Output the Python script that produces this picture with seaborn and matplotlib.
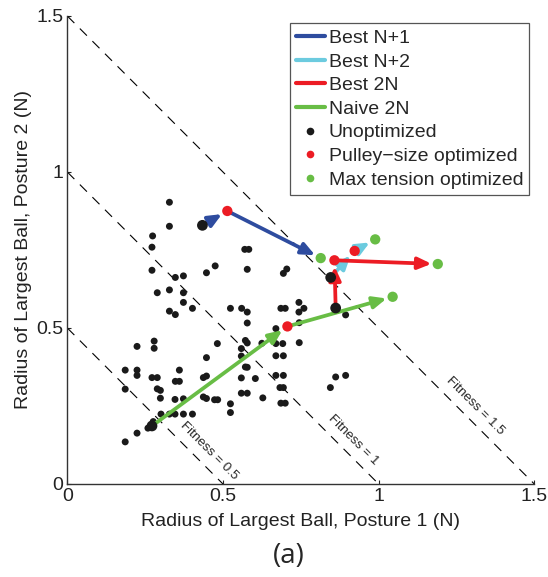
import matplotlib
matplotlib.use("Agg")
import matplotlib.pyplot as plt
import seaborn as sns
from matplotlib.lines import Line2D

# unoptimized designs: radius of largest ball in posture 1 / posture 2 (N)
unopt_x = [0.328, 0.328, 0.274, 0.272, 0.272, 0.347, 0.373, 0.447, 0.475, 0.570,
           0.583, 0.578, 0.289, 0.328, 0.373, 0.373, 0.402, 0.328, 0.347, 0.524,
           0.560, 0.578, 0.578, 0.670, 0.694, 0.705, 0.686, 0.700, 0.744, 0.744,
           0.760, 0.745, 0.745, 0.862, 0.894, 0.845, 0.894, 0.224, 0.279, 0.279,
           0.482, 0.572, 0.578, 0.559, 0.447, 0.559, 0.625, 0.670, 0.692, 0.670,
           0.694, 0.572, 0.578, 0.559, 0.604, 0.670, 0.694, 0.683, 0.694, 0.186,
           0.224, 0.224, 0.272, 0.289, 0.360, 0.347, 0.360, 0.437, 0.447, 0.186,
           0.289, 0.299, 0.299, 0.346, 0.373, 0.437, 0.447, 0.473, 0.483, 0.559,
           0.578, 0.628, 0.524, 0.524, 0.686, 0.700, 0.301, 0.328, 0.346, 0.373,
           0.402, 0.276, 0.224, 0.186, 0.259]
unopt_y = [0.903, 0.826, 0.795, 0.759, 0.685, 0.662, 0.667, 0.677, 0.699, 0.752,
           0.752, 0.688, 0.613, 0.622, 0.613, 0.582, 0.563, 0.554, 0.543, 0.563,
           0.563, 0.551, 0.516, 0.498, 0.675, 0.689, 0.563, 0.563, 0.582, 0.551,
           0.563, 0.517, 0.453, 0.343, 0.348, 0.309, 0.542, 0.441, 0.458, 0.435,
           0.450, 0.460, 0.452, 0.434, 0.405, 0.410, 0.451, 0.450, 0.450, 0.411,
           0.411, 0.375, 0.374, 0.340, 0.338, 0.348, 0.348, 0.309, 0.309, 0.365,
           0.365, 0.348, 0.341, 0.341, 0.365, 0.329, 0.329, 0.341, 0.346, 0.304,
           0.305, 0.300, 0.275, 0.271, 0.273, 0.279, 0.274, 0.270, 0.270, 0.291,
           0.291, 0.276, 0.257, 0.229, 0.259, 0.259, 0.224, 0.224, 0.224, 0.224,
           0.224, 0.200, 0.163, 0.135, 0.179]

# design paths: unoptimized -> pulley-size optimized -> max tension optimized
path_names = ["Best N+1", "Best N+2", "Best 2N", "Naive 2N"]
path_colors = ["#2e4c9f", "#6ccbdf", "#ec1c24", "#68bd45"]
start_x = [0.434, 0.846, 0.862, 0.272]
start_y = [0.829, 0.662, 0.564, 0.186]
pulley_x = [0.514, 0.923, 0.858, 0.707]
pulley_y = [0.875, 0.747, 0.717, 0.505]
tension_x = [0.814, 0.989, 1.190, 1.045]
tension_y = [0.724, 0.784, 0.705, 0.600]

fitness_levels = [0.5, 1.0, 1.5]
fitness_labels = ["Fitness = 0.5", "Fitness = 1", "Fitness = 1.5"]
ticks = [0, 0.5, 1, 1.5]
tick_labels = ["0", "0.5", "1", "1.5"]

sns.set_style("ticks")
plt.rcParams["font.family"] = ["Liberation Sans", "DejaVu Sans"]

fig, ax = plt.subplots(figsize=(5.48, 5.77), dpi=100)
fig.subplots_adjust(left=0.1228, right=0.975, bottom=0.1612, top=0.9723)

# iso-fitness lines
for f, lab, along in zip(fitness_levels, fitness_labels, [0.35, 0.78, 1.06]):
    ax.plot([0, f], [f, 0], color="black", lw=0.8, ls=(0, (9, 7)), zorder=1)
    off = 0.06
    tx = (f + along) / 2 + off / 2
    ty = (f - along) / 2 + off / 2
    ax.text(tx, ty, lab, rotation=-45, rotation_mode="anchor", ha="center",
            va="center", fontsize=9.5, zorder=2)

sns.scatterplot(x=unopt_x, y=unopt_y, color="#1a1a1a", s=25, edgecolor="none",
                ax=ax, zorder=3, legend=False)

arrow_style = "-|>,head_length=0.8,head_width=0.35"
for i, c in enumerate(path_colors):
    for (x0, y0), (x1, y1) in [((start_x[i], start_y[i]), (pulley_x[i], pulley_y[i])),
                               ((pulley_x[i], pulley_y[i]), (tension_x[i], tension_y[i]))]:
        ax.annotate("", xy=(x1, y1), xytext=(x0, y0), zorder=4,
                    arrowprops=dict(arrowstyle=arrow_style, color=c, lw=2.7,
                                    shrinkA=0, shrinkB=4.5, mutation_scale=10))

sns.scatterplot(x=start_x, y=start_y, color="#1a1a1a", s=60, edgecolor="none",
                ax=ax, zorder=5, legend=False)
sns.scatterplot(x=pulley_x, y=pulley_y, color="#ec1c24", s=55, edgecolor="none",
                ax=ax, zorder=5, legend=False)
sns.scatterplot(x=tension_x, y=tension_y, color="#68bd45", s=55, edgecolor="none",
                ax=ax, zorder=5, legend=False)

ax.set_xlim(0, 1.5)
ax.set_ylim(0, 1.5)
ax.set_xticks(ticks)
ax.set_xticklabels(tick_labels)
ax.set_yticks(ticks)
ax.set_yticklabels(tick_labels)
ax.tick_params(direction="in", length=3, width=0.8, labelsize=14, pad=3, colors="#222222")
ax.set_xlabel("Radius of Largest Ball, Posture 1 (N)", fontsize=14, color="#222222", labelpad=6)
ax.set_ylabel("Radius of Largest Ball, Posture 2 (N)", fontsize=14, color="#222222", labelpad=3)
sns.despine(ax=ax)
for sp in ["left", "bottom"]:
    ax.spines[sp].set_linewidth(1.0)
    ax.spines[sp].set_color("#333333")

handles = [Line2D([0], [0], color=c, lw=3) for c in path_colors]
handles += [Line2D([0], [0], marker="o", ls="none", color=c, markersize=5.5, markeredgewidth=0)
            for c in ["#1a1a1a", "#ec1c24", "#68bd45"]]
labels = path_names + ["Unoptimized", "Pulley\u2212size optimized", "Max tension optimized"]
leg = ax.legend(handles, labels, loc="upper right", bbox_to_anchor=(0.989, 0.984),
                fontsize=14, frameon=True, fancybox=False, framealpha=1,
                edgecolor="#555555", borderaxespad=0, borderpad=0.3,
                labelspacing=0.31, handlelength=1.5, handletextpad=0.2)
leg.get_frame().set_linewidth(0.9)

fig.text(289 / 548, 1 - 556 / 577, "(a)", fontsize=20, ha="center", va="center",
         family=["Open Sans", "DejaVu Sans"])

fig.savefig("out.png", dpi=100)
